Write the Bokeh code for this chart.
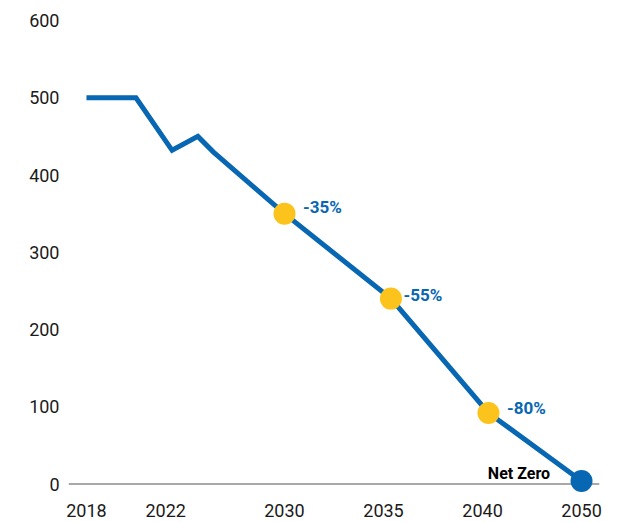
from bokeh.plotting import figure
from bokeh.models import ColumnDataSource, FixedTicker, Range1d, Span
from bokeh.core.properties import value
from bokeh.embed import file_html
from bokeh.resources import INLINE

# x positions on the chart's (non-uniform) time axis, in axis units
line_x = [0, 10, 17.3, 22.5, 25.6, 40, 61.5, 81.2, 100]
line_y = [500, 500, 432, 450, 430, 350, 240, 92, 4]

milestone_x = [40, 61.5, 81.2]
milestone_y = [350, 240, 92]
milestone_labels = ["-35%", "-55%", "-80%"]

netzero_x = [100]
netzero_y = [4]
netzero_label = ["Net Zero"]

tick_pos = [0, 16, 40, 60, 80, 100]
tick_labels = ["2018", "2022", "2030", "2035", "2040", "2050"]
y_ticks = [0, 100, 200, 300, 400, 500, 600]

BLUE = "#0867b2"
YELLOW = "#fbc31c"
FONT = "Roboto"

p = figure(width=632, height=522, output_backend="svg", toolbar_location=None,
           x_range=Range1d(-3.63, 103.63), y_range=Range1d(-11, 610.4))
p.min_border_left = 68
p.min_border_right = 33
p.min_border_top = 12
p.min_border_bottom = 30
p.outline_line_color = None
p.grid.visible = False
p.background_fill_color = "white"

zero = Span(location=0, dimension="width", line_color="#a8a8a8", line_width=2.2, level="underlay")
p.add_layout(zero)

p.line(line_x, line_y, line_color=BLUE, line_width=5, line_join="miter")

ms = ColumnDataSource(dict(x=milestone_x, y=milestone_y, t=milestone_labels,
                           dx=[18.5, 12.5, 18.5], dy=[-6.5, -4, -5]))
p.scatter("x", "y", source=ms, size=22, fill_color=YELLOW, line_color=None)
p.text("x", "y", text="t", source=ms, x_offset="dx", y_offset="dy",
       text_color=BLUE, text_font=value(FONT), text_font_size="17px",
       text_font_style="bold", text_baseline="middle", text_align="left")

nz = ColumnDataSource(dict(x=netzero_x, y=netzero_y, t=netzero_label))
p.scatter("x", "y", source=nz, size=22, fill_color=BLUE, line_color=None)
p.text("x", "y", text="t", source=nz, x_offset=-31.5, y_offset=-7,
       text_color="black", text_font=value(FONT), text_font_size="16px",
       text_font_style="bold", text_baseline="middle", text_align="right")

xa = p.xaxis[0]
xa.ticker = FixedTicker(ticks=tick_pos)
xa.major_label_overrides = {t: l for t, l in zip(tick_pos, tick_labels)}
xa.axis_line_color = None
xa.major_tick_line_color = None
xa.minor_tick_line_color = None
xa.major_tick_out = 0
xa.major_label_standoff = 11
xa.major_label_text_font = FONT
xa.major_label_text_font_size = "18px"
xa.major_label_text_color = "#1a1a1a"

ya = p.yaxis[0]
ya.ticker = FixedTicker(ticks=y_ticks)
ya.axis_line_color = None
ya.major_tick_line_color = None
ya.minor_tick_line_color = None
ya.major_tick_out = 0
ya.major_label_standoff = 9
ya.major_label_text_font = FONT
ya.major_label_text_font_size = "18px"
ya.major_label_text_color = "#1a1a1a"

open("out.html", "w").write(file_html(p, INLINE))
